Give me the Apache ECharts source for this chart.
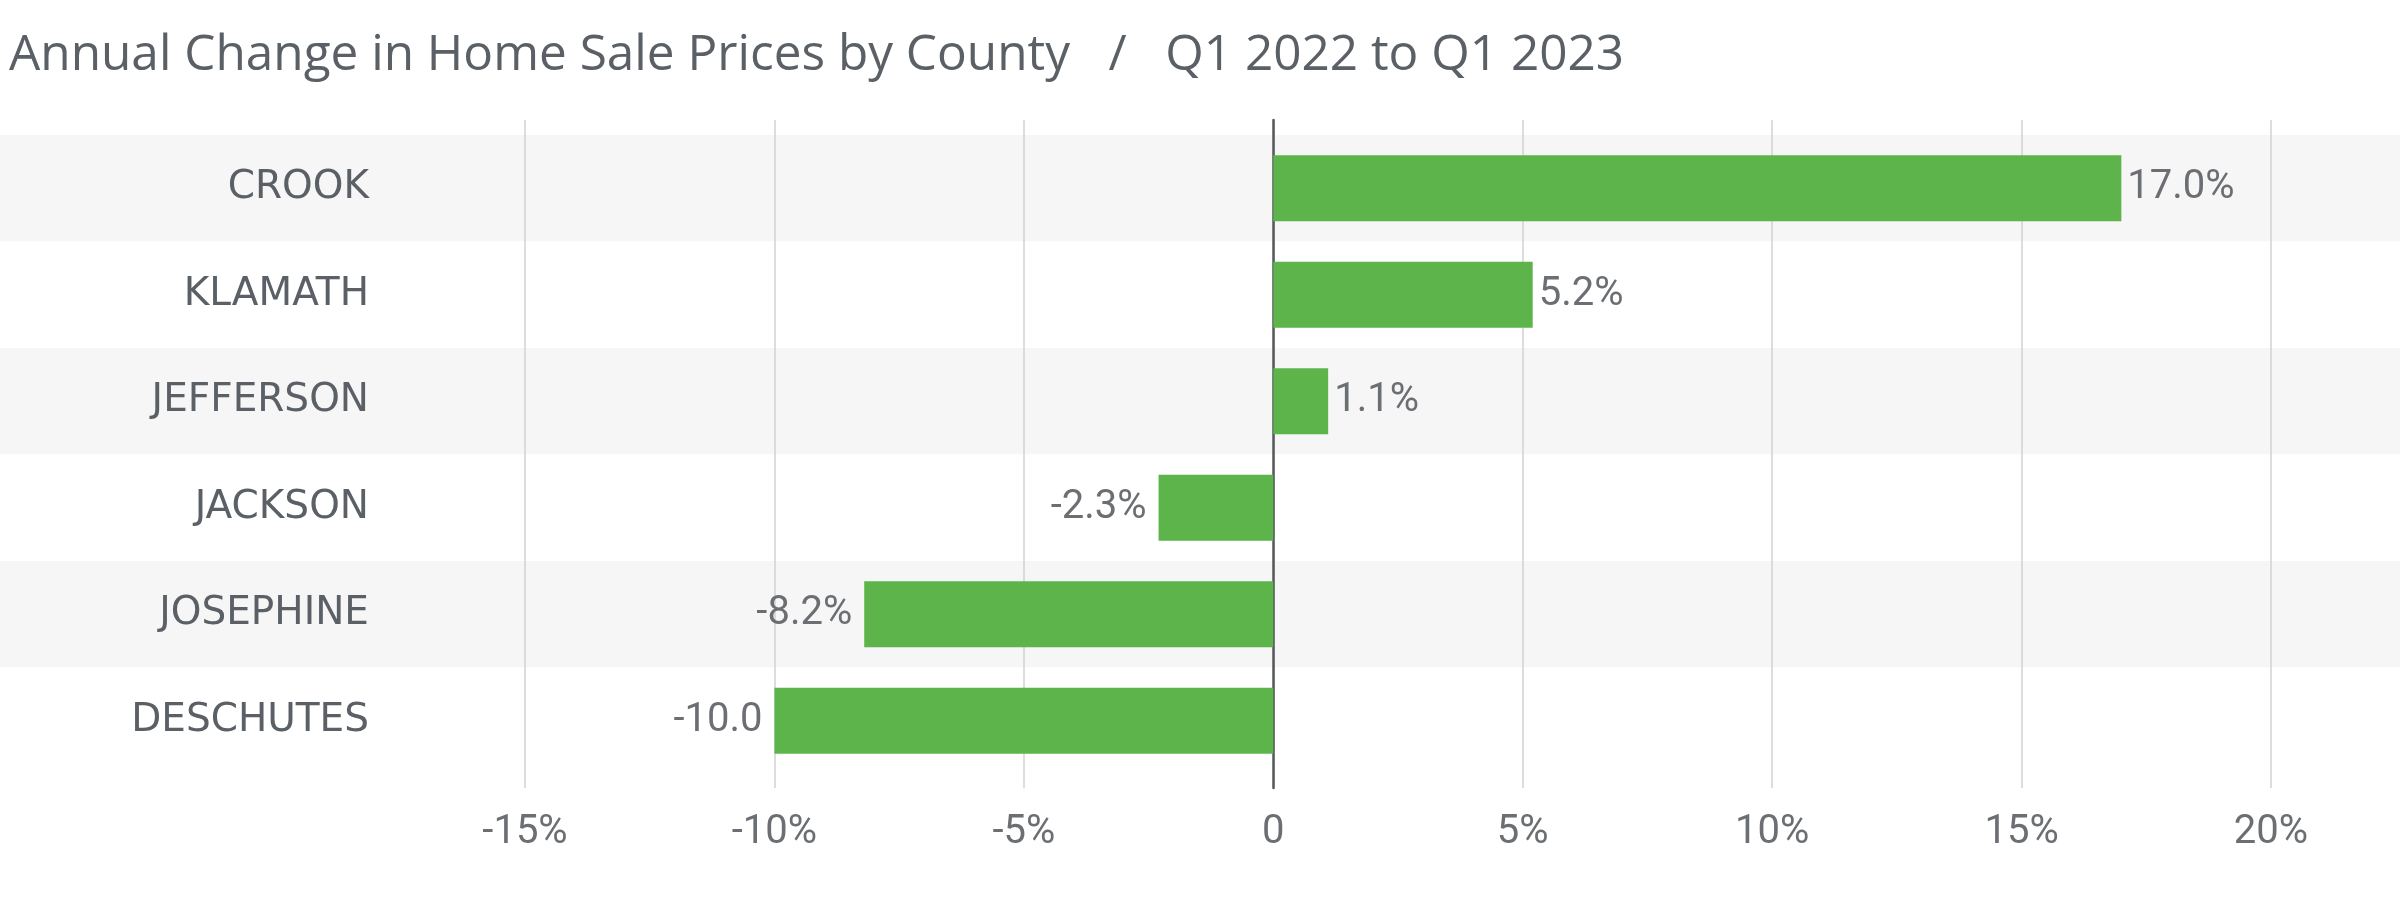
<!DOCTYPE html>
<html><head><meta charset="utf-8">
<script src="https://cdn.jsdelivr.net/npm/echarts@6/dist/echarts.min.js"></script>
<style>html,body{margin:0;padding:0;background:#fff}#c{width:2400px;height:922px}</style>
</head><body><div id="c"></div>
<script>
const titleText = 'Annual Change in Home Sale Prices by County   /   Q1 2022 to Q1 2023';
const categories = ['CROOK', 'KLAMATH', 'JEFFERSON', 'JACKSON', 'JOSEPHINE', 'DESCHUTES'];
const values = [17.0, 5.2, 1.1, -2.3, -8.2, -10.0];
const valueLabels = ['17.0%', '5.2%', '1.1%', '-2.3%', '-8.2%', '-10.0'];
const tickValues = [-15, -10, -5, 0, 5, 10, 15, 20];

const narrow = 'Roboto, sans-serif';
const chart = echarts.init(document.getElementById('c'));
chart.setOption({
  animation: false,
  backgroundColor: '#ffffff',
  title: {
    text: titleText, left: 4, top: 26,
    textStyle: { fontFamily: '"Open Sans"', fontWeight: 'normal', fontSize: 49.5, color: '#5a6066' }
  },
  grid: [
    { left: 0, right: 0, top: 135, bottom: 148 },        // bands
    { left: 525, right: 129, top: 135, bottom: 148 },    // bars
    { left: 525, right: 129, top: 120, bottom: 134 }     // value axis / grid lines
  ],
  xAxis: [
    { gridIndex: 0, type: 'value', min: 0, max: 1, show: false },
    { gridIndex: 1, type: 'value', min: tickValues[0], max: tickValues[tickValues.length - 1], show: false },
    {
      gridIndex: 2, type: 'value', min: tickValues[0], max: tickValues[tickValues.length - 1], interval: 5,
      axisLine: { show: false }, axisTick: { show: false },
      splitLine: { show: true, lineStyle: { color: '#d2d2d2', width: 1.5 } },
      axisLabel: {
        margin: 25, fontFamily: narrow, fontSize: 40, color: '#6b6e72',
        formatter: v => (v === 0 ? '0' : v + '%')
      }
    }
  ],
  yAxis: [
    {
      gridIndex: 0, type: 'category', data: categories, inverse: true,
      axisLine: { show: false }, axisTick: { show: false }, axisLabel: { show: false },
      splitArea: { show: true, areaStyle: { color: ['#f6f6f6', '#ffffff'] } }
    },
    {
      gridIndex: 1, type: 'category', data: categories, inverse: true,
      axisLine: { show: false }, axisTick: { show: false },
      axisLabel: { margin: 156, padding: [9, 0, 0, 0], fontFamily: '"DejaVu Sans", sans-serif', fontSize: 39, color: '#5a6066' }
    },
    {
      gridIndex: 2, type: 'value', min: 0, max: 1,
      axisLine: { show: true, onZero: true, lineStyle: { color: '#55595c', width: 2.5 } },
      axisTick: { show: false }, axisLabel: { show: false }, splitLine: { show: false }
    }
  ],
  series: [{
    type: 'bar', xAxisIndex: 1, yAxisIndex: 1, barWidth: 66, z: 5,
    itemStyle: { color: '#5cb44b' },
    data: values.map((v, i) => ({
      value: v,
      label: {
        show: true, position: v >= 0 ? 'right' : 'left', distance: v >= 0 ? 6 : 12,
        padding: [6, 0, 0, 0],
        formatter: valueLabels[i], fontFamily: narrow, fontSize: 40, color: '#6b6e72'
      }
    }))
  }]
});
</script></body></html>
